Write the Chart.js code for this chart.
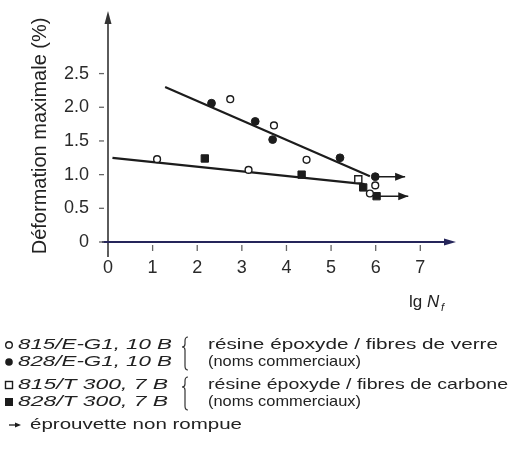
<!DOCTYPE html>
<html>
<head>
<meta charset="utf-8">
<style>
  html, body { margin: 0; padding: 0; background: #fff; }
</style>
</head>
<body>
<canvas id="myChart" width="514" height="457"></canvas>
<script src="https://cdn.jsdelivr.net/npm/chart.js@4/dist/chart.umd.min.js"></script>
<script>
// axis ticks
const xTicks = [0, 1, 2, 3, 4, 5, 6, 7];
const yTicks = [0, 0.5, 1.0, 1.5, 2.0, 2.5];
const yTickLabels = ['0', '0.5', '1.0', '1.5', '2.0', '2.5'];
const yTitle = 'Déformation maximale (%)';

// measured points [lg Nf, deformation %]
const glass815 = [[1.10, 1.23], [2.74, 2.12], [3.15, 1.07], [3.72, 1.73], [4.45, 1.22], [5.87, 0.72], [5.99, 0.84]];
const glass828 = [[2.32, 2.06], [3.30, 1.79], [3.69, 1.52], [5.20, 1.25], [5.99, 0.97]];
const carbon815 = [[5.61, 0.93]];
const carbon828 = [[2.17, 1.24], [4.34, 1.00], [5.72, 0.81], [6.02, 0.68]];

// fitted lines
const glassFit = [[1.28, 2.30], [5.87, 0.975]];
const carbonFit = [[0.10, 1.25], [5.75, 0.86]];

// run-outs (specimen not broken)
const runoutGlass = [[6.00, 0.97], [6.66, 0.97]];
const runoutCarbon = [[6.05, 0.68], [6.73, 0.68]];

// legend text
const legendCodes = ['815/E-G1, 10 B', '828/E-G1, 10 B', '815/T 300, 7 B', '828/T 300, 7 B'];
const legendNotes = ['résine époxyde / fibres de verre', '(noms commerciaux)',
                     'résine époxyde / fibres de carbone', '(noms commerciaux)'];
const runoutNote = 'éprouvette non rompue';

const INK = '#1c1c1c';
const pts = arr => arr.map(p => ({x: p[0], y: p[1]}));

function fitText(ctx, text, x, y, w, font) {
  ctx.font = font;
  const nat = ctx.measureText(text).width;
  ctx.save();
  ctx.translate(x, y);
  ctx.scale(w / nat, 1);
  ctx.fillText(text, 0, 0);
  ctx.restore();
}

function brace(ctx, x, y1, ym, y2) {
  ctx.beginPath();
  ctx.moveTo(x + 3, y1);
  ctx.quadraticCurveTo(x, y1, x, y1 + 4);
  ctx.lineTo(x, ym - 3);
  ctx.quadraticCurveTo(x, ym, x - 3, ym);
  ctx.quadraticCurveTo(x, ym, x, ym + 3);
  ctx.lineTo(x, y2 - 4);
  ctx.quadraticCurveTo(x, y2, x + 3, y2);
  ctx.stroke();
}

function arrowHead(ctx, x, y, len, half) {
  ctx.beginPath();
  ctx.moveTo(x, y);
  ctx.lineTo(x - len, y - half);
  ctx.lineTo(x - len, y + half);
  ctx.closePath();
  ctx.fill();
}

const decor = {
  id: 'decor',
  afterDraw(chart) {
    const ctx = chart.ctx;
    const xs = chart.scales.x, ys = chart.scales.y;
    const ax = xs.getPixelForValue(0), ay = ys.getPixelForValue(0);
    ctx.save();

    // y axis with arrow
    ctx.strokeStyle = '#333';
    ctx.fillStyle = '#333';
    ctx.lineWidth = 1.6;
    ctx.beginPath();
    ctx.moveTo(ax, ay + 15);
    ctx.lineTo(ax, 22);
    ctx.stroke();
    ctx.beginPath();
    ctx.moveTo(ax, 11);
    ctx.lineTo(ax - 3.5, 24);
    ctx.lineTo(ax + 3.5, 24);
    ctx.closePath();
    ctx.fill();

    // x axis with arrow
    ctx.strokeStyle = '#25255a';
    ctx.fillStyle = '#25255a';
    ctx.lineWidth = 2;
    ctx.beginPath();
    ctx.moveTo(ax - 6, ay);
    ctx.lineTo(446, ay);
    ctx.stroke();
    arrowHead(ctx, 456, ay, 12, 3.5);

    // tick marks
    ctx.strokeStyle = '#666';
    ctx.lineWidth = 1.3;
    yTicks.forEach(v => {
      const py = ys.getPixelForValue(v);
      ctx.beginPath();
      ctx.moveTo(ax - 9, py);
      ctx.lineTo(ax - 4, py);
      ctx.stroke();
    });
    xTicks.forEach(v => {
      const px = xs.getPixelForValue(v);
      ctx.beginPath();
      ctx.moveTo(px, ay + 3);
      ctx.lineTo(px, ay + 9);
      ctx.stroke();
    });

    // run-out arrowheads
    ctx.fillStyle = INK;
    chart.data.datasets.forEach(ds => {
      if (!ds.arrowHead) return;
      const last = ds.data[ds.data.length - 1];
      arrowHead(ctx, xs.getPixelForValue(last.x), ys.getPixelForValue(last.y), 10, 4);
    });

    // x axis title: lg N_f
    ctx.fillStyle = '#222';
    ctx.textBaseline = 'alphabetic';
    ctx.textAlign = 'left';
    ctx.font = '17px "Liberation Sans", Arial, sans-serif';
    ctx.fillText('lg', 409, 307);
    ctx.font = 'italic 17px "Liberation Sans", Arial, sans-serif';
    ctx.fillText('N', 427, 307);
    ctx.font = 'italic 11px "Liberation Sans", Arial, sans-serif';
    ctx.fillText('f', 441, 311);

    // legend block
    const rows = [345, 362, 385, 402];
    const codeW = [154, 154, 150, 150];
    const noteW = [290, 153, 300, 153];
    ctx.textBaseline = 'middle';
    rows.forEach((y, i) => {
      const sx = 9;
      ctx.lineWidth = 1.4;
      ctx.strokeStyle = INK;
      ctx.fillStyle = INK;
      if (i === 0) { ctx.beginPath(); ctx.arc(sx, y, 3.3, 0, Math.PI * 2); ctx.stroke(); }
      if (i === 1) { ctx.beginPath(); ctx.arc(sx, y, 3.8, 0, Math.PI * 2); ctx.fill(); }
      if (i === 2) { ctx.strokeRect(sx - 3.5, y - 3.5, 7, 7); }
      if (i === 3) { ctx.fillRect(sx - 4, y - 4, 8, 8); }
      ctx.fillStyle = '#222';
      fitText(ctx, legendCodes[i], 18, y, codeW[i], 'italic 15px "Liberation Sans", Arial, sans-serif');
      fitText(ctx, legendNotes[i], 208, y, noteW[i], '15px "Liberation Sans", Arial, sans-serif');
    });
    ctx.strokeStyle = '#333';
    ctx.lineWidth = 1.2;
    brace(ctx, 185, 337, 347, 370);
    brace(ctx, 185, 377, 387, 410);

    // run-out legend
    ctx.strokeStyle = INK;
    ctx.fillStyle = INK;
    ctx.lineWidth = 1.3;
    ctx.beginPath();
    ctx.moveTo(9, 425);
    ctx.lineTo(16, 425);
    ctx.stroke();
    arrowHead(ctx, 21, 425, 6, 2.5);
    ctx.fillStyle = '#222';
    fitText(ctx, runoutNote, 30, 425, 212, '15px "Liberation Sans", Arial, sans-serif');

    ctx.restore();
  }
};

const tickFont = {family: '"Liberation Sans", Arial, sans-serif', size: 18};

new Chart(document.getElementById('myChart'), {
  type: 'scatter',
  data: {
    datasets: [
      {label: '815/E-G1', data: pts(glass815), pointStyle: 'circle', pointRadius: 3.4,
       backgroundColor: '#fff', borderColor: INK, borderWidth: 1.4},
      {label: '828/E-G1', data: pts(glass828), pointStyle: 'circle', pointRadius: 3.9,
       backgroundColor: INK, borderColor: INK, borderWidth: 1},
      {label: '815/T300', data: pts(carbon815), pointStyle: 'rect', pointRadius: 5,
       backgroundColor: '#fff', borderColor: INK, borderWidth: 1.4},
      {label: '828/T300', data: pts(carbon828), pointStyle: 'rect', pointRadius: 5.2,
       backgroundColor: INK, borderColor: INK, borderWidth: 1},
      {label: 'fit glass', data: pts(glassFit), showLine: true, pointRadius: 0,
       borderColor: INK, borderWidth: 2.2},
      {label: 'fit carbon', data: pts(carbonFit), showLine: true, pointRadius: 0,
       borderColor: INK, borderWidth: 2.2},
      {label: 'runout glass', data: pts(runoutGlass), showLine: true, pointRadius: 0,
       borderColor: INK, borderWidth: 1.5, arrowHead: true},
      {label: 'runout carbon', data: pts(runoutCarbon), showLine: true, pointRadius: 0,
       borderColor: INK, borderWidth: 1.5, arrowHead: true}
    ]
  },
  options: {
    responsive: false,
    devicePixelRatio: 1,
    animation: false,
    layout: {padding: {left: 0, top: 15, right: 58, bottom: 175}},
    plugins: {legend: {display: false}, tooltip: {enabled: false}},
    scales: {
      x: {
        type: 'linear', min: 0, max: 7.8,
        grid: {display: false, drawTicks: false},
        border: {display: false},
        afterBuildTicks: s => { s.ticks = xTicks.map(v => ({value: v})); },
        afterFit: s => { s.height = 40; },
        ticks: {font: tickFont, color: '#2a2a2a', padding: 15, autoSkip: false,
                maxRotation: 0, callback: v => String(v)}
      },
      y: {
        type: 'linear', min: 0, max: 3.15,
        grid: {display: false, drawTicks: false},
        border: {display: false},
        afterBuildTicks: s => { s.ticks = yTicks.map(v => ({value: v})); },
        afterFit: s => { s.width = 108; },
        title: {display: true, text: yTitle, color: '#222',
                font: {family: '"Liberation Sans", Arial, sans-serif', size: 20},
                padding: {top: 28, bottom: 0}},
        ticks: {font: tickFont, color: '#2a2a2a', padding: 19, autoSkip: false,
                callback: v => yTickLabels[yTicks.indexOf(v)]}
      }
    }
  },
  plugins: [decor]
});
</script>
</body>
</html>
